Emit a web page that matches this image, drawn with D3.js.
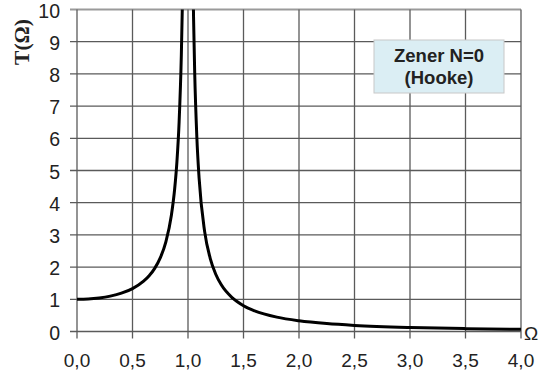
<!DOCTYPE html>
<html><head><meta charset="utf-8">
<script src="https://cdn.jsdelivr.net/npm/d3@7"></script>
<style>
html,body{margin:0;padding:0;background:#fff;}
svg{display:block;}
text{font-family:"Liberation Sans",Arial,sans-serif;fill:#222;}
</style></head>
<body>
<svg id="c" width="543" height="375"></svg>
<script>
const omega = [0, 0.1, 0.2, 0.3, 0.4, 0.5, 0.6, 0.65, 0.7, 0.75, 0.8, 0.85, 0.88, 0.9, 0.92, 0.94, 0.95, 0.96, 0.97,
  1.0,
  1.03, 1.04, 1.05, 1.06, 1.08, 1.1, 1.15, 1.2, 1.25, 1.3, 1.4, 1.5, 1.6, 1.8, 2.0, 2.25, 2.5, 3.0, 3.5, 4.0];
const transmissibility = [1.0, 1.01, 1.042, 1.099, 1.19, 1.333, 1.563, 1.732, 1.961, 2.286, 2.778, 3.604, 4.433, 5.263, 6.51, 8.59, 10.26, 12.76, 16.92,
  null,
  16.42, 12.25, 9.756, 8.091, 6.01, 4.762, 3.101, 2.273, 1.778, 1.449, 1.042, 0.8, 0.641, 0.446, 0.333, 0.246, 0.19, 0.125, 0.089, 0.067];
const xTicks = [0, 0.5, 1.0, 1.5, 2.0, 2.5, 3.0, 3.5, 4.0];
const yTicks = [0, 1, 2, 3, 4, 5, 6, 7, 8, 9, 10];
const yLabel = "T(Ω)";
const xLabel = "Ω";
const noteLines = ["Zener N=0", "(Hooke)"];

const svg = d3.select("#c");
const x = d3.scaleLinear().domain([0, 4]).range([77, 521]);
const y = d3.scaleLinear().domain([0, 10]).range([331.5, 9.5]);
const fmt = d => d.toFixed(1).replace(".", ",");

// grid
const g = svg.append("g");
g.selectAll(".hg").data(yTicks).join("line")
  .attr("x1", x(0) - 7).attr("x2", x(4))
  .attr("y1", d => y(d)).attr("y2", d => y(d))
  .attr("stroke", d => d === 10 ? "#9a9a9a" : "#5a5a5a")
  .attr("stroke-width", d => d === 10 ? 2 : 1.3);
g.selectAll(".vg").data(xTicks).join("line")
  .attr("x1", d => x(d)).attr("x2", d => x(d))
  .attr("y1", y(10)).attr("y2", y(0) + 7)
  .attr("stroke", "#5a5a5a").attr("stroke-width", 1.3);

// tick labels
svg.selectAll(".yl").data(yTicks).join("text")
  .attr("x", 60).attr("y", d => y(d) + 8)
  .attr("text-anchor", "end").attr("font-size", 19.5)
  .text(d => d);
svg.selectAll(".xl").data(xTicks).join("text")
  .attr("x", d => x(d)).attr("y", 367)
  .attr("text-anchor", "middle").attr("font-size", 19)
  .text(fmt);

// clip
svg.append("clipPath").attr("id", "clip").append("rect")
  .attr("x", x(0) - 2).attr("y", y(10)).attr("width", x(4) - x(0) + 4).attr("height", y(0) - y(10) + 3);

const pts = omega.map((o, i) => [o, transmissibility[i]]);
const line = d3.line()
  .defined(d => d[1] !== null)
  .x(d => x(d[0])).y(d => y(d[1]))
  .curve(d3.curveMonotoneX);
svg.append("path").datum(pts)
  .attr("clip-path", "url(#clip)")
  .attr("d", line)
  .attr("fill", "none").attr("stroke", "#000").attr("stroke-width", 3)
  .attr("stroke-linejoin", "round");

// axis labels
svg.append("text")
  .attr("transform", "translate(29,42) rotate(-90)")
  .attr("text-anchor", "middle")
  .style("font-family", "'Liberation Serif','Times New Roman',serif")
  .attr("font-weight", "bold").attr("font-size", 21.5)
  .text(yLabel);
svg.append("text")
  .attr("x", 531).attr("y", 340).attr("text-anchor", "middle")
  .attr("font-size", 19).text(xLabel);

// note box
svg.append("rect").attr("x", 374).attr("y", 40).attr("width", 130).attr("height", 53)
  .attr("fill", "#dbeef4").attr("stroke", "#c8c8c8").attr("stroke-width", 1);
svg.selectAll(".nt").data(noteLines).join("text")
  .attr("x", 439).attr("y", (d, i) => 62 + i * 21.5)
  .attr("text-anchor", "middle").attr("font-weight", "bold").attr("font-size", 18.5)
  .text(d => d);
</script>
</body></html>
